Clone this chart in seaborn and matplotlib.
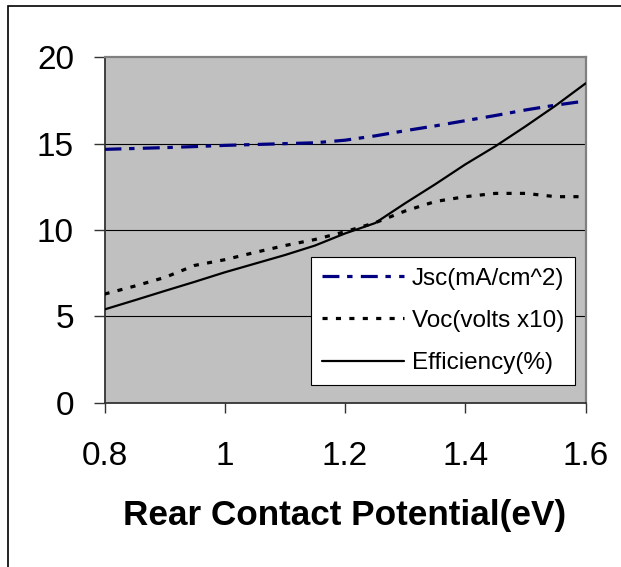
import matplotlib
matplotlib.use("Agg")
import matplotlib.pyplot as plt
import seaborn as sns
import pandas as pd
from matplotlib.patches import Rectangle
from matplotlib.lines import Line2D

# ---- data ----
potential = [0.80, 0.85, 0.90, 0.95, 1.00, 1.05, 1.10, 1.15, 1.20,
             1.25, 1.30, 1.35, 1.40, 1.45, 1.50, 1.55, 1.60]
jsc = [14.67, 14.72, 14.77, 14.83, 14.90, 14.95, 15.00, 15.05, 15.20,
       15.45, 15.75, 16.03, 16.33, 16.63, 16.95, 17.23, 17.47]
voc = [6.29, 6.75, 7.25, 7.95, 8.28, 8.70, 9.10, 9.45, 9.90,
       10.42, 11.10, 11.65, 11.93, 12.12, 12.12, 11.93, 11.93]
eff = [5.40, 5.93, 6.47, 7.00, 7.55, 8.05, 8.55, 9.10, 9.80,
       10.40, 11.55, 12.65, 13.80, 14.85, 16.00, 17.20, 18.49]
series_names = ["Jsc(mA/cm^2)", "Voc(volts x10)", "Efficiency(%)"]
x_ticks = [0.8, 1.0, 1.2, 1.4, 1.6]
x_tick_labels = ["0.8", "1", "1.2", "1.4", "1.6"]
y_ticks = [0, 5, 10, 15, 20]
x_label = "Rear Contact Potential(eV)"

sns.set_style("white")
plt.rcParams["font.family"] = ["Liberation Sans", "DejaVu Sans"]
plt.rcParams["text.color"] = "black"
plt.rcParams["xtick.color"] = "black"
plt.rcParams["ytick.color"] = "black"
plt.rcParams["axes.labelcolor"] = "black"

fig = plt.figure(figsize=(6.21, 5.67), dpi=100)
W, H = 621, 567
ax = fig.add_axes([104.5 / W, 1 - 402.7 / H, (585.6 - 104.5) / W, (402.7 - 57.3) / H])
ax.set_facecolor("#C0C0C0")

df = pd.DataFrame({"x": potential, "Jsc": jsc, "Voc": voc, "Eff": eff})

styles = [
    ("Jsc", "#000080", 2.3, (0, (5.3, 2.4, 1.7, 2.6))),
    ("Voc", "black", 2.3, (0, (1.6, 2.6))),
    ("Eff", "black", 1.6, "-"),
]
handles = []
for (col, color, lw, ls), name in zip(styles, series_names):
    sns.lineplot(data=df, x="x", y=col, ax=ax, color=color, linewidth=lw,
                 linestyle=ls, zorder=3, legend=False)
    handles.append(Line2D([], [], color=color, linewidth=lw, linestyle=ls))

ax.set_xlim(0.8, 1.6)
ax.set_ylim(0, 20)
ax.set_xticks(x_ticks)
ax.set_xticklabels(x_tick_labels)
ax.set_yticks(y_ticks)

# gridlines at 5,10,15
for yv in y_ticks[1:-1]:
    ax.axhline(yv, color="black", linewidth=0.8, zorder=1)

for side in ["top", "right"]:
    ax.spines[side].set_color("#808080")
    ax.spines[side].set_linewidth(1.6)
for side in ["left", "bottom"]:
    ax.spines[side].set_color("#333333")
    ax.spines[side].set_linewidth(1.3)

ax.tick_params(axis="y", direction="out", length=8, width=1.0, color="#333333",
               labelsize=24, pad=14, left=True, labelcolor="black")
ax.tick_params(axis="x", direction="out", length=7.5, width=1.0, color="#333333",
               labelsize=24, pad=20, bottom=True, labelcolor="black")

ax.set_xlabel(x_label, fontsize=25.3, fontweight="bold", color="black")
ax.xaxis.set_label_coords(0.5, (402.7 - 515) / 345.4)
ax.xaxis.label.set_va("center")
ax.set_ylabel("")

leg = ax.legend(handles, series_names, loc="lower right",
                bbox_to_anchor=(0.978, 0.051), borderaxespad=0,
                fontsize=17.5, frameon=True, fancybox=False, framealpha=1,
                edgecolor="black", facecolor="white", handlelength=3.4,
                handletextpad=0.3, labelspacing=0.83, borderpad=0.45)
leg.get_frame().set_linewidth(0.8)
for t in leg.get_texts():
    t.set_color("black")

# outer chart border
fig.patches.append(Rectangle((8 / W, -0.1), 1.2, 1 - 6 / H + 0.1,
                             transform=fig.transFigure, fill=False,
                             edgecolor="black", linewidth=1.2))

fig.savefig("out.png", dpi=100)
